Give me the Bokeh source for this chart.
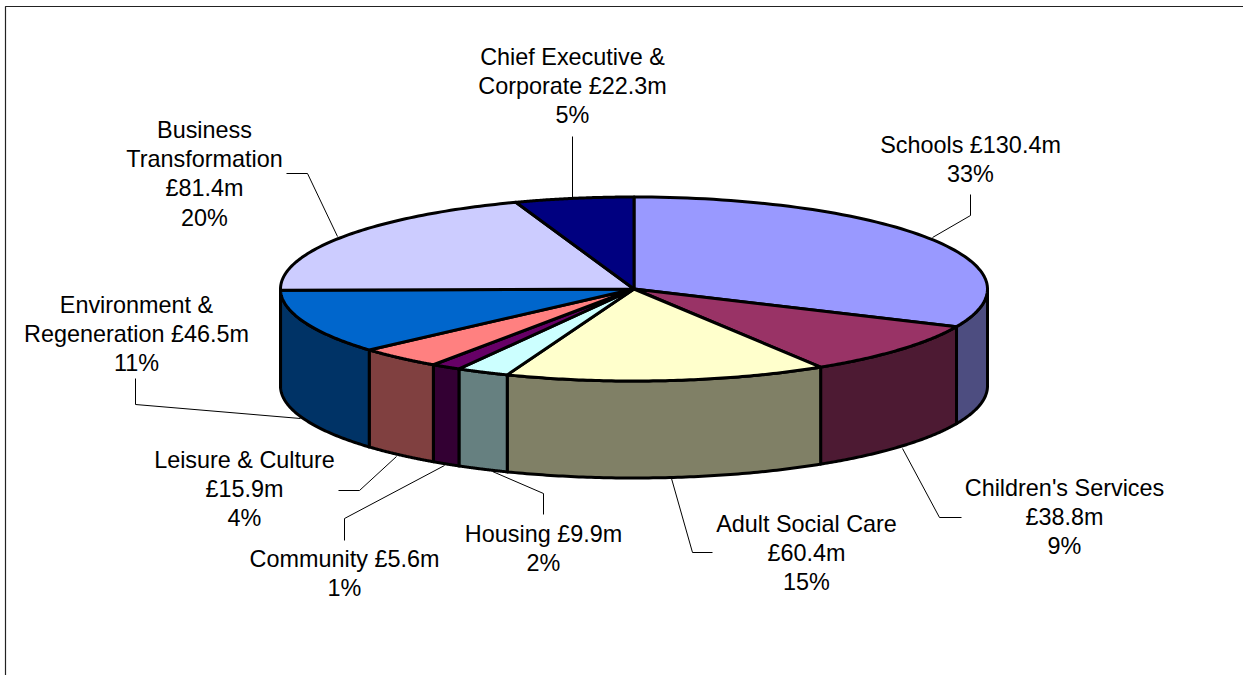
import numpy as np
from bokeh.core.properties import value
from bokeh.embed import file_html
from bokeh.models import Range1d
from bokeh.plotting import figure
from bokeh.resources import INLINE

# Net budget by directorate, in £m, clockwise from twelve o'clock
departments = ["Schools", "Children's Services", "Adult Social Care", "Housing", "Community",
               "Leisure & Culture", "Environment & Regeneration", "Business Transformation",
               "Chief Executive & Corporate"]
budget = [130.4, 38.8, 60.4, 9.9, 5.6, 15.9, 46.5, 81.4, 22.3]
top_colors = ["#9999FF", "#993366", "#FFFFCC", "#CCFFFF", "#660066", "#FF8080", "#0066CC", "#CCCCFF", "#000080"]
side_colors = ["#4D4D80", "#4D1A33", "#808066", "#668080", "#330033", "#804040", "#003366", "#666680", "#000040"]

# Label text, one entry per line, with the centre of the block and the first line's height
label_lines = [
    ["Schools £130.4m", "33%"],
    ["Children's Services", "£38.8m", "9%"],
    ["Adult Social Care", "£60.4m", "15%"],
    ["Housing £9.9m", "2%"],
    ["Community £5.6m", "1%"],
    ["Leisure & Culture", "£15.9m", "4%"],
    ["Environment &", "Regeneration £46.5m", "11%"],
    ["Business", "Transformation", "£81.4m", "20%"],
    ["Chief Executive &", "Corporate £22.3m", "5%"],
]
label_x = [970, 1064, 806, 543, 344, 244, 136, 204, 572]
label_y = [144, 487, 523, 533, 558, 459, 304, 129, 56]
LINE_STEP = 29.4

# Leader polylines running from each slice to its label
leader_x = [[932, 970, 970], [902, 939, 961], [671, 692, 712], [492, 543, 543], [444, 344, 344],
            [396, 359, 338], [300, 135, 135], [337, 307, 286], [572, 572]]
leader_y = [[237, 215, 194], [448, 517, 517], [478, 552, 552], [471, 493, 514], [465, 518, 540],
            [456, 490, 490], [418, 404, 378], [236, 173, 173], [197, 136]]

# Projected pie geometry
CX, CY = 633.5, 288.5
RX, RY = 353.5, 92.0
DEPTH = 97.0


def rim(a0, a1, n=80):
    t = np.linspace(a0, a1, n)
    return CX + RX * np.sin(t), CY - RY * np.cos(t)


p = figure(width=1243, height=675, output_backend="svg", toolbar_location=None,
           x_range=Range1d(0, 1243), y_range=Range1d(675, 0), min_border=0,
           outline_line_color=None, background_fill_color="white", border_fill_color="white")
p.axis.visible = False
p.grid.visible = False

# Chart border: only the left and top edges fall inside the page
p.line([5, 5, 1243], [675, 6, 6], line_color="#222222", line_width=1.2)

edges = np.cumsum([0] + budget) / sum(budget) * 2 * np.pi

# Outer wall of the slices facing the viewer
for i in range(len(budget)):
    a0, a1 = max(edges[i], np.pi / 2), min(edges[i + 1], 3 * np.pi / 2)
    if a1 <= a0:
        continue
    x, y = rim(a0, a1)
    p.patch(np.r_[x, x[::-1]], np.r_[y, y[::-1] + DEPTH], fill_color=side_colors[i],
            line_color="black", line_width=3, line_join="round")

# Top faces
for i in range(len(budget)):
    x, y = rim(edges[i], edges[i + 1])
    p.patch(np.r_[CX, x], np.r_[CY, y], fill_color=top_colors[i],
            line_color="black", line_width=3, line_join="round")

p.multi_line(leader_x, leader_y, line_color="black", line_width=1)

for lines, lx, ly in zip(label_lines, label_x, label_y):
    ys = [ly + LINE_STEP * k for k in range(len(lines))]
    p.text([lx] * len(lines), ys, text=lines, text_align="center", text_baseline="middle",
           text_font=value("Liberation Sans"), text_font_size="23.4px", text_color="black")

open("out.html", "w").write(file_html(p, INLINE))
